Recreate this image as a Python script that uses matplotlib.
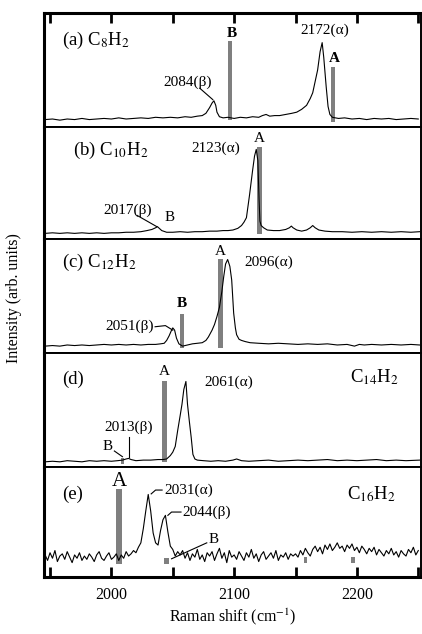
import numpy as np
import matplotlib
matplotlib.use('Agg')
import matplotlib.pyplot as plt

plt.rcParams['font.family'] = ['Liberation Serif', 'DejaVu Serif']
plt.rcParams['mathtext.fontset'] = 'stix'

# ---------------- data (y normalised 0..1 per panel) ----------------
# (a) C8H2
a_x = [1946, 1952, 1958, 1964, 1970, 1976, 1982, 1988, 1994, 2000, 2006, 2012, 2018, 2024, 2030,
       2036, 2042, 2048, 2054, 2060, 2065, 2070, 2074, 2077, 2080, 2082, 2083.5, 2085, 2086, 2088,
       2091, 2095, 2100, 2105, 2110, 2115, 2120, 2123, 2126, 2129, 2133, 2137, 2142, 2147, 2151,
       2155, 2159, 2162, 2164, 2166, 2168, 2170, 2171.7, 2173, 2174, 2175, 2176.5, 2178, 2180,
       2185, 2190, 2196, 2202, 2208, 2214, 2220, 2226, 2232, 2238, 2244, 2250]
a_y = [0.065, 0.07, 0.06, 0.07, 0.065, 0.075, 0.065, 0.07, 0.075, 0.07, 0.08, 0.07, 0.075, 0.08, 0.075,
       0.085, 0.08, 0.085, 0.08, 0.09, 0.085, 0.095, 0.10, 0.12, 0.17, 0.21, 0.23, 0.19, 0.13, 0.09,
       0.08, 0.085, 0.075, 0.085, 0.08, 0.09, 0.085, 0.10, 0.11, 0.095, 0.10, 0.10, 0.11, 0.12, 0.13,
       0.155, 0.19, 0.25, 0.30, 0.40, 0.50, 0.66, 0.74, 0.61, 0.48, 0.35, 0.18, 0.11, 0.085,
       0.075, 0.08, 0.07, 0.075, 0.065, 0.075, 0.07, 0.075, 0.065, 0.07, 0.075, 0.07]

# (b) C10H2
b_x = [1946, 1952, 1958, 1964, 1970, 1976, 1982, 1988, 1994, 2000, 2006, 2012, 2018, 2024, 2029,
       2033, 2036, 2037.5, 2039, 2041, 2045, 2050, 2056, 2062, 2068, 2074, 2080, 2086, 2091, 2095,
       2099, 2103, 2106, 2108, 2110, 2112.5, 2115, 2116.6, 2118, 2119.3, 2120.3, 2121, 2122, 2124,
       2127, 2132, 2137, 2142, 2145, 2146.6, 2148, 2151, 2155, 2159, 2162, 2164, 2166, 2169, 2174,
       2180, 2188, 2196, 2204, 2212, 2220, 2228, 2236, 2244, 2251]
b_y = [0.05, 0.055, 0.05, 0.055, 0.05, 0.055, 0.05, 0.055, 0.05, 0.055, 0.055, 0.06, 0.06, 0.065, 0.075,
       0.085, 0.10, 0.11, 0.095, 0.075, 0.06, 0.06, 0.065, 0.06, 0.065, 0.065, 0.07, 0.07, 0.075, 0.075,
       0.08, 0.095, 0.12, 0.15, 0.19, 0.39, 0.61, 0.74, 0.80, 0.70, 0.35, 0.16, 0.12, 0.10,
       0.08, 0.075, 0.075, 0.085, 0.10, 0.115, 0.10, 0.08, 0.07, 0.08, 0.10, 0.12, 0.10, 0.08, 0.07,
       0.065, 0.065, 0.06, 0.065, 0.06, 0.065, 0.06, 0.065, 0.06, 0.065]

# (c) C12H2
c_x = [1946, 1952, 1958, 1964, 1970, 1976, 1982, 1988, 1994, 2000, 2006, 2012, 2018, 2024, 2030,
       2036, 2040, 2043, 2045, 2047, 2049, 2050, 2051.5, 2053, 2055, 2058, 2062, 2066, 2070, 2074,
       2077, 2079, 2082, 2084, 2086, 2088, 2090, 2091.5, 2093, 2094.7, 2096.5, 2098, 2099.6, 2101,
       2102, 2104, 2106, 2109, 2113, 2120, 2128, 2136, 2144, 2152, 2160, 2168, 2176, 2184, 2192,
       2198, 2202, 2206, 2212, 2220, 2228, 2236, 2244, 2251]
c_y = [0.06, 0.065, 0.06, 0.07, 0.065, 0.07, 0.065, 0.07, 0.075, 0.07, 0.075, 0.07, 0.075, 0.07, 0.075,
       0.075, 0.08, 0.085, 0.11, 0.15, 0.20, 0.22, 0.20, 0.13, 0.08, 0.06, 0.07, 0.08, 0.085, 0.09,
       0.11, 0.14, 0.20, 0.25, 0.32, 0.40, 0.54, 0.67, 0.78, 0.82, 0.76, 0.64, 0.35, 0.22,
       0.16, 0.12, 0.11, 0.10, 0.09, 0.085, 0.08, 0.085, 0.08, 0.075, 0.08, 0.075, 0.08, 0.07, 0.075,
       0.06, 0.075, 0.07, 0.075, 0.07, 0.075, 0.07, 0.075, 0.07]

# (d) C14H2
d_x = [1946, 1952, 1958, 1964, 1970, 1976, 1982, 1988, 1994, 2000, 2005, 2009, 2012, 2014, 2016,
       2020, 2026, 2032, 2038, 2042, 2045, 2048, 2050, 2052, 2054, 2056, 2057.5, 2059, 2060.7, 2062,
       2063.5, 2065, 2066.4, 2068, 2070, 2075, 2081, 2087, 2093, 2099, 2102, 2106, 2112, 2120, 2128,
       2136, 2144, 2152, 2160, 2168, 2176, 2184, 2192, 2200, 2208, 2216, 2224, 2232, 2240, 2251]
d_y = [0.045, 0.05, 0.045, 0.055, 0.05, 0.045, 0.055, 0.05, 0.055, 0.05, 0.055, 0.06, 0.07, 0.075, 0.065,
       0.055, 0.06, 0.06, 0.065, 0.065, 0.07, 0.10, 0.13, 0.18, 0.32, 0.45, 0.55, 0.68, 0.75, 0.55,
       0.40, 0.26, 0.11, 0.07, 0.06, 0.055, 0.05, 0.055, 0.05, 0.06, 0.07, 0.055, 0.05, 0.055, 0.06,
       0.05, 0.055, 0.06, 0.055, 0.06, 0.065, 0.055, 0.06, 0.055, 0.06, 0.065, 0.055, 0.06, 0.055, 0.06]

# (e) C16H2 - noisy spectrum, sampled every 2 cm-1 from 1946
e_x = np.arange(1946, 2251, 2)
e_y = [0.20, 0.15, 0.22, 0.17, 0.24, 0.14, 0.19, 0.21, 0.16, 0.23, 0.18, 0.13, 0.20, 0.17, 0.22,
       0.15, 0.19, 0.16, 0.21, 0.18, 0.14, 0.20, 0.23, 0.17, 0.15, 0.19, 0.22, 0.16, 0.18, 0.21,
       0.15, 0.20, 0.17, 0.23, 0.19, 0.21, 0.24,
       0.22, 0.27, 0.31, 0.44, 0.60, 0.75, 0.60, 0.40, 0.31, 0.29, 0.42, 0.52, 0.56, 0.41, 0.28,
       0.25, 0.19, 0.23,
       0.20, 0.24, 0.17, 0.22, 0.15, 0.21, 0.18, 0.25, 0.16, 0.20, 0.14, 0.22, 0.19, 0.23, 0.15,
       0.21, 0.26, 0.17, 0.22, 0.13, 0.24, 0.18, 0.20, 0.16, 0.23, 0.19, 0.15, 0.22, 0.18, 0.25,
       0.17, 0.21, 0.14, 0.20, 0.23, 0.16, 0.19, 0.22, 0.17, 0.24, 0.15, 0.20, 0.18, 0.22, 0.16,
       0.21, 0.19,
       0.21, 0.18, 0.24, 0.20, 0.26, 0.22, 0.19, 0.25, 0.28, 0.23, 0.27, 0.21, 0.29, 0.25, 0.30,
       0.24, 0.27, 0.31, 0.26, 0.28, 0.23, 0.29, 0.26, 0.30, 0.24, 0.27, 0.22, 0.28, 0.25, 0.21,
       0.26, 0.23, 0.27, 0.20, 0.25, 0.22, 0.19, 0.24, 0.21, 0.26, 0.20, 0.23, 0.18, 0.24, 0.21,
       0.19, 0.25, 0.22, 0.27, 0.20, 0.24]

# calculated modes (grey bars): position, bottom, top, width
a_bars = [(2097, 0.06, 0.75, 3.3), (2180.6, 0.045, 0.53, 3.3)]
b_bars = [(2120.6, 0.045, 0.82, 3.5)]
c_bars = [(2089, 0.04, 0.82, 3.8), (2057.5, 0.04, 0.34, 3.8)]
d_bars = [(2043, 0.04, 0.75, 4.0), (2009, 0.03, 0.08, 3.0)]
e_bars = [(2006.5, 0.12, 0.80, 5.0), (2045, 0.12, 0.17, 4.0), (2158, 0.13, 0.18, 3.0), (2197, 0.13, 0.18, 3.0)]

spectra = [(a_x, a_y, a_bars), (b_x, b_y, b_bars), (c_x, c_y, c_bars), (d_x, d_y, d_bars), (e_x, e_y, e_bars)]

# ---------------- figure ----------------
fig = plt.figure(figsize=(4.22, 6.34), dpi=100)
gs = fig.add_gridspec(5, 1, height_ratios=[114, 112, 114, 114, 110], hspace=0,
                      left=0.104, right=0.997, top=0.9795, bottom=0.090)
axes = [fig.add_subplot(gs[i]) for i in range(5)]

grey = '#7f7f7f'
for ax, (x, y, bars) in zip(axes, spectra):
    for pos, lo, hi, w in bars:
        ax.bar(pos, hi - lo, bottom=lo, width=w, color=grey, zorder=1)
    ax.plot(x, y, color='black', lw=0.8, zorder=2)
    ax.set_xlim(1945, 2252)
    ax.set_ylim(0, 1)
    ax.set_yticks([])
    for s in ax.spines.values():
        s.set_linewidth(1.4)
    ax.spines['left'].set_linewidth(2.2)
    ax.tick_params(axis='x', which='both', bottom=False, top=False, labelbottom=False)

# ticks only on top of (a) and bottom of (e)
for ax, side in [(axes[0], 'top'), (axes[4], 'bottom')]:
    ax.set_xticks([2000, 2100, 2200])
    ax.set_xticks([1950, 2050, 2150, 2250], minor=True)
    ax.tick_params(axis='x', which='both', direction='in', length=7, width=2,
                   **{side: True})
axes[4].tick_params(axis='x', which='major', labelbottom=True, labelsize=11.5, pad=7)
axes[4].spines['bottom'].set_linewidth(2.2)
axes[0].spines['top'].set_linewidth(2.2)
axes[4].set_xlabel(r'Raman shift (cm$^{-1}$)', fontsize=11.5, labelpad=3)
fig.text(0.033, 0.53, 'Intensity (arb. units)', rotation=90, ha='center', va='center', fontsize=11.5)

lab = 13.5
ann = 11
ln = dict(color='black', lw=0.8)

# (a)
ax = axes[0]
ax.text(1960, 0.76, r'(a) C$_8$H$_2$', fontsize=lab, va='center')
ax.text(2098.5, 0.82, 'B', fontsize=ann, ha='center', va='center', fontweight='bold')
ax.text(2174, 0.85, '2172(α)', fontsize=ann, ha='center', va='center')
ax.text(2182, 0.60, 'A', fontsize=ann, ha='center', va='center', fontweight='bold')
ax.text(2062, 0.39, '2084(β)', fontsize=ann, ha='center', va='center')
ax.plot([2072, 2082.6], [0.34, 0.24], **ln)

# (b)
ax = axes[1]
ax.text(1969, 0.79, r'(b) C$_{10}$H$_2$', fontsize=lab, va='center')
ax.text(2085, 0.81, '2123(α)', fontsize=ann, ha='center', va='center')
ax.text(2120.6, 0.90, 'A', fontsize=ann, ha='center', va='center')
ax.text(2013, 0.26, '2017(β)', fontsize=ann, ha='center', va='center')
ax.plot([2021, 2037], [0.21, 0.11], **ln)
ax.text(2047, 0.19, 'B', fontsize=ann, ha='center', va='center')

# (c)
ax = axes[2]
ax.text(1960, 0.79, r'(c) C$_{12}$H$_2$', fontsize=lab, va='center')
ax.text(2089, 0.89, 'A', fontsize=ann, ha='center', va='center')
ax.text(2128, 0.80, '2096(α)', fontsize=ann, ha='center', va='center')
ax.text(2057.5, 0.43, 'B', fontsize=ann, ha='center', va='center', fontweight='bold')
ax.text(2015, 0.23, '2051(β)', fontsize=ann, ha='center', va='center')
ax.plot([2035.6, 2044, 2050], [0.23, 0.24, 0.20], **ln)

# (d)
ax = axes[3]
ax.text(1960, 0.77, '(d)', fontsize=lab, va='center')
ax.text(2043, 0.84, 'A', fontsize=ann, ha='center', va='center')
ax.text(2095.5, 0.74, '2061(α)', fontsize=ann, ha='center', va='center')
ax.text(2214.6, 0.79, r'C$_{14}$H$_2$', fontsize=lab, ha='center', va='center')
ax.text(2014, 0.35, '2013(β)', fontsize=ann, ha='center', va='center')
ax.plot([2014, 2014], [0.26, 0.09], **ln)
ax.text(1997, 0.18, 'B', fontsize=ann, ha='center', va='center')
ax.plot([2002.4, 2009], [0.14, 0.09], **ln)

# (e)
ax = axes[4]
ax.text(1960, 0.75, '(e)', fontsize=lab, va='center')
ax.text(2006.5, 0.87, 'A', fontsize=15, ha='center', va='center')
ax.text(2043, 0.79, '2031(α)', fontsize=ann, ha='left', va='center')
ax.plot([2032.4, 2036, 2041.3], [0.755, 0.79, 0.79], **ln)
ax.text(2057.5, 0.59, '2044(β)', fontsize=ann, ha='left', va='center')
ax.plot([2046, 2049, 2056.7], [0.56, 0.59, 0.59], **ln)
ax.text(2079, 0.34, 'B', fontsize=ann, ha='left', va='center')
ax.plot([2049, 2077.7], [0.165, 0.31], **ln)
ax.text(2212, 0.75, r'C$_{16}$H$_2$', fontsize=lab, ha='center', va='center')

fig.savefig('out.png', dpi=100)
